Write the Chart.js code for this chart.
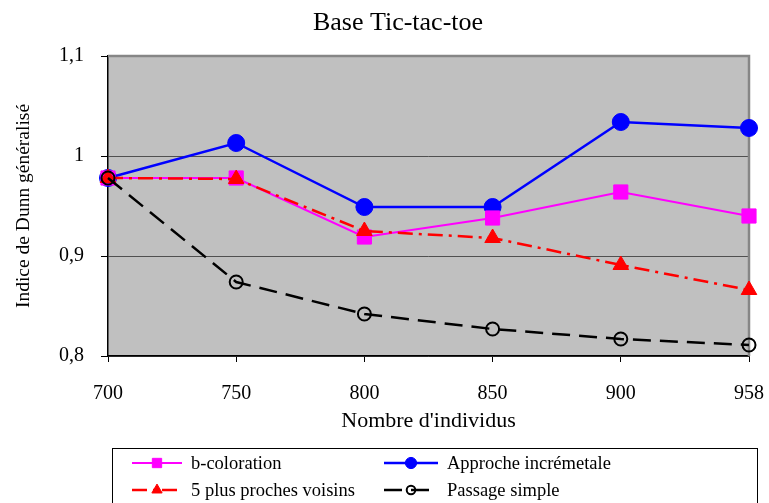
<!DOCTYPE html>
<html>
<head>
<meta charset="utf-8">
<script src="https://cdn.jsdelivr.net/npm/chart.js@4/dist/chart.umd.min.js"></script>
<style>
  html, body { margin: 0; padding: 0; background: #fff; }
  #wrap { width: 769px; height: 503px; position: relative; }
</style>
</head>
<body>
<div id="wrap"><canvas id="myChart"></canvas></div>
<script>
// Donnees
const categories = ['700', '750', '800', '850', '900', '958'];
const bColoration = [0.978, 0.978, 0.919, 0.938, 0.964, 0.940];
const approcheIncr = [0.978, 1.013, 0.949, 0.949, 1.034, 1.028];
const plusProches = [0.978, 0.977, 0.925, 0.918, 0.891, 0.866];
const passageSimple = [0.978, 0.874, 0.842, 0.827, 0.817, 0.811];
const yTicks = [0.8, 0.9, 1.0, 1.1];
const chartTitle = 'Base Tic-tac-toe';

const FONT = 'Liberation Serif';

// fond gris de la zone de tracé + titre
const plotBg = {
    id: 'plotBg',
    beforeDraw(chart) {
        const a = chart.chartArea;
        const ctx = chart.ctx;
        ctx.save();
        ctx.fillStyle = '#c0c0c0';
        ctx.fillRect(a.left, a.top, a.right - a.left, a.bottom - a.top);
        // titre centre un peu a droite, comme dans l'original
        ctx.fillStyle = '#000';
        ctx.font = '26px ' + FONT;
        ctx.textAlign = 'center';
        ctx.textBaseline = 'middle';
        ctx.fillText(chartTitle, 398, 23);
        ctx.restore();
    },
    beforeDatasetsDraw(chart) {
        // bordures haut et droite grises
        const a = chart.chartArea;
        const ctx = chart.ctx;
        ctx.save();
        ctx.strokeStyle = '#868686';
        ctx.lineWidth = 2.5;
        ctx.beginPath();
        ctx.moveTo(a.left, a.top);
        ctx.lineTo(a.right, a.top);
        ctx.lineTo(a.right, a.bottom);
        ctx.stroke();
        ctx.restore();
    }
};

// legende encadree en bas
const boxLegend = {
    id: 'boxLegend',
    afterDraw(chart) {
        const ctx = chart.ctx;
        ctx.save();
        ctx.strokeStyle = '#000';
        ctx.lineWidth = 1;
        ctx.strokeRect(112.5, 448.5, 645, 60);
        const spots = [[132, 463, 50], [384, 463, 54], [132, 490, 50], [384, 490, 54]];
        chart.data.datasets.forEach((ds, i) => {
            const [x, y, w] = spots[i];
            ctx.strokeStyle = ds.borderColor;
            ctx.lineWidth = ds.borderWidth;
            ctx.setLineDash(ds.borderDash || []);
            ctx.beginPath();
            ctx.moveTo(x, y);
            ctx.lineTo(x + w, y);
            ctx.stroke();
            ctx.setLineDash([]);
            ctx.fillStyle = ds.pointBackgroundColor;
            ctx.strokeStyle = ds.pointBorderColor;
            ctx.lineWidth = ds.pointBorderWidth;
            Chart.helpers.drawPoint(ctx, {
                pointStyle: ds.pointStyle,
                radius: ds.pointRadius * 0.66,
                borderWidth: ds.pointBorderWidth
            }, x + w / 2, y);
            ctx.fillStyle = '#000';
            ctx.font = '18.5px ' + FONT;
            ctx.textBaseline = 'middle';
            ctx.fillText(ds.label, x + w + 9, y + 1);
        });
        ctx.restore();
    }
};

const ctx = document.getElementById('myChart').getContext('2d');
new Chart(ctx, {
    type: 'line',
    data: {
        labels: categories,
        datasets: [
            {
                label: 'b-coloration',
                data: bColoration,
                borderColor: '#ff00ff',
                backgroundColor: '#ff00ff',
                pointBackgroundColor: '#ff00ff',
                pointBorderColor: '#ff00ff',
                borderWidth: 2,
                pointStyle: 'rect',
                pointRadius: 10,
                pointBorderWidth: 1,
                order: 3
            },
            {
                label: 'Approche incrémetale',
                data: approcheIncr,
                borderColor: '#0000ff',
                backgroundColor: '#0000ff',
                pointBackgroundColor: '#0000ff',
                pointBorderColor: '#0000ff',
                borderWidth: 2.5,
                pointStyle: 'circle',
                pointRadius: 8.5,
                pointBorderWidth: 1,
                order: 4
            },
            {
                label: '5 plus proches voisins',
                data: plusProches,
                borderColor: '#ff0000',
                backgroundColor: '#ff0000',
                pointBackgroundColor: '#ff0000',
                pointBorderColor: '#ff0000',
                borderWidth: 2.5,
                borderDash: [15, 6, 3, 6],
                pointStyle: 'triangle',
                pointRadius: 9,
                pointBorderWidth: 1,
                order: 2
            },
            {
                label: 'Passage simple',
                data: passageSimple,
                borderColor: '#000000',
                backgroundColor: 'rgba(0,0,0,0)',
                pointBackgroundColor: 'rgba(0,0,0,0)',
                pointBorderColor: '#000000',
                borderWidth: 2.5,
                borderDash: [18, 9],
                pointStyle: 'circle',
                pointRadius: 6.5,
                pointBorderWidth: 2,
                order: 1
            }
        ]
    },
    options: {
        responsive: true,
        maintainAspectRatio: false,
        animation: false,
        layout: { padding: { top: 56, right: 20, bottom: 69, left: 0 } },
        plugins: {
            legend: { display: false },
            tooltip: { enabled: false },
            title: { display: false }
        },
        scales: {
            x: {
                offset: false,
                afterFit(axis) {
                    axis.height = 78;
                    axis.paddingLeft = 0;
                    axis.paddingRight = 0;
                },
                grid: {
                    display: true,
                    drawOnChartArea: false,
                    drawTicks: true,
                    tickLength: 6,
                    color: '#000'
                },
                border: { color: '#000', width: 1.5 },
                ticks: {
                    color: '#000',
                    font: { family: FONT, size: 20 },
                    padding: 20,
                    maxRotation: 0
                },
                title: {
                    display: true,
                    text: "Nombre d'individus",
                    color: '#000',
                    font: { family: FONT, size: 22 },
                    padding: { top: 0, bottom: 0 }
                }
            },
            y: {
                min: 0.8,
                max: 1.1,
                afterFit(axis) { axis.width = 108; },
                afterBuildTicks(axis) {
                    axis.ticks = yTicks.map(v => ({ value: v }));
                },
                grid: {
                    color: '#505050',
                    lineWidth: 1,
                    tickLength: 7,
                    drawTicks: true,
                    tickColor: '#000'
                },
                border: { color: '#000', width: 1.5 },
                ticks: {
                    color: '#000',
                    font: { family: FONT, size: 20 },
                    padding: 17,
                    callback: v => String(Math.round(v * 10) / 10).replace('.', ',')
                },
                title: {
                    display: true,
                    text: 'Indice de Dunn généralisé',
                    color: '#000',
                    font: { family: FONT, size: 19.5 },
                    padding: { top: 12, bottom: 0 }
                }
            }
        }
    },
    plugins: [plotBg, boxLegend]
});
</script>
</body>
</html>
